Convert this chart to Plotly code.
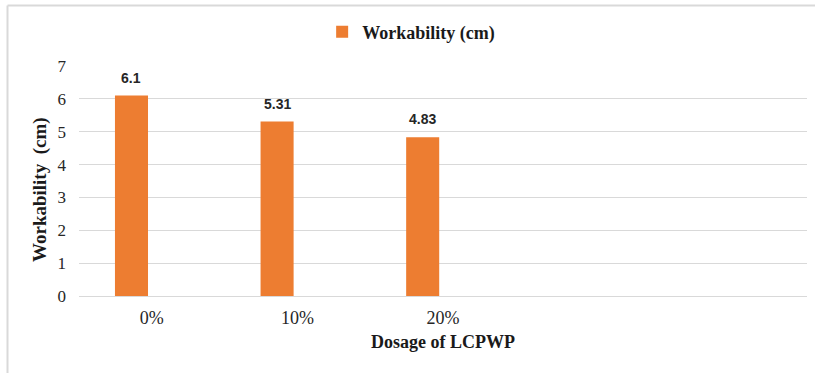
import plotly.graph_objects as go

# Workability of the mix at each LCPWP dosage
categories = ["0%", "10%", "20%"]
workability = [6.1, 5.31, 4.83]
y_ticks = [0, 1, 2, 3, 4, 5, 6, 7]

positions = list(range(len(categories)))

BAR_OFFSET = -0.253
BAR_WIDTH = 0.227

serif = "Liberation Serif, Times New Roman, serif"
sans = "Liberation Sans, Arial, sans-serif"

fig = go.Figure()
fig.add_trace(go.Bar(
    x=positions,
    y=workability,
    name="Workability (cm)",
    marker=dict(color="#ED7D31", line=dict(width=0)),
    offset=BAR_OFFSET,
    width=BAR_WIDTH,
    cliponaxis=False,
))

# Value labels above each bar
for p, v in zip(positions, workability):
    fig.add_annotation(
        x=p + BAR_OFFSET + BAR_WIDTH / 2, y=v,
        text=f"<b>{v:g}</b>",
        showarrow=False, yanchor="bottom", yshift=8,
        font=dict(family=sans, size=14, color="#262626"),
    )

# Vertical axis title, set slightly below the plot's mid-height
fig.add_annotation(
    xref="paper", yref="paper",
    x=(40 - 79) / 728, y=(296 - 190) / 230,
    text="<b>Workability  (cm)</b>",
    textangle=-90, showarrow=False,
    xanchor="center", yanchor="middle",
    font=dict(family=serif, size=19, color="#1a1a1a"),
)

fig.update_layout(
    width=815,
    height=373,
    margin=dict(l=79, r=8, t=66, b=77),
    paper_bgcolor="white",
    plot_bgcolor="white",
    showlegend=True,
    legend=dict(
        orientation="h",
        x=0.334, xanchor="left",
        y=1.148, yanchor="middle",
        font=dict(family=serif, size=18, color="#1a1a1a", weight="bold"),
        itemwidth=30,
        bgcolor="rgba(0,0,0,0)",
    ),
    xaxis=dict(
        range=[-0.5, 4.5],
        tickvals=positions,
        ticktext=categories,
        showgrid=False,
        zeroline=False,
        showline=False,
        ticks="",
        ticklabelstandoff=9,
        tickfont=dict(family=serif, size=18, color="#262626"),
        title=dict(text="<b>Dosage of LCPWP</b>",
                   font=dict(family=serif, size=18, color="#1a1a1a"),
                   standoff=8),
    ),
    yaxis=dict(
        range=[0, 7],
        tickvals=y_ticks,
        showgrid=True,
        gridcolor="#d9d9d9",
        gridwidth=1,
        zeroline=True,
        zerolinecolor="#d9d9d9",
        zerolinewidth=1,
        showline=False,
        ticks="",
        ticklabelstandoff=12,
        tickfont=dict(family=serif, size=17, color="#262626"),
    ),
)

# Chart frame: top and left edges
frame_top = (373 - 5.5 - 77) / 230
frame_left = (7.5 - 79) / 728
frame_bottom = -77 / 230 - 0.05
fig.add_shape(type="line", xref="paper", yref="paper",
              x0=frame_left, x1=1.02, y0=frame_top, y1=frame_top,
              line=dict(color="#d9d9d9", width=2))
fig.add_shape(type="line", xref="paper", yref="paper",
              x0=frame_left, x1=frame_left, y0=frame_top, y1=frame_bottom,
              line=dict(color="#d9d9d9", width=2))

fig.write_html("out.html")
